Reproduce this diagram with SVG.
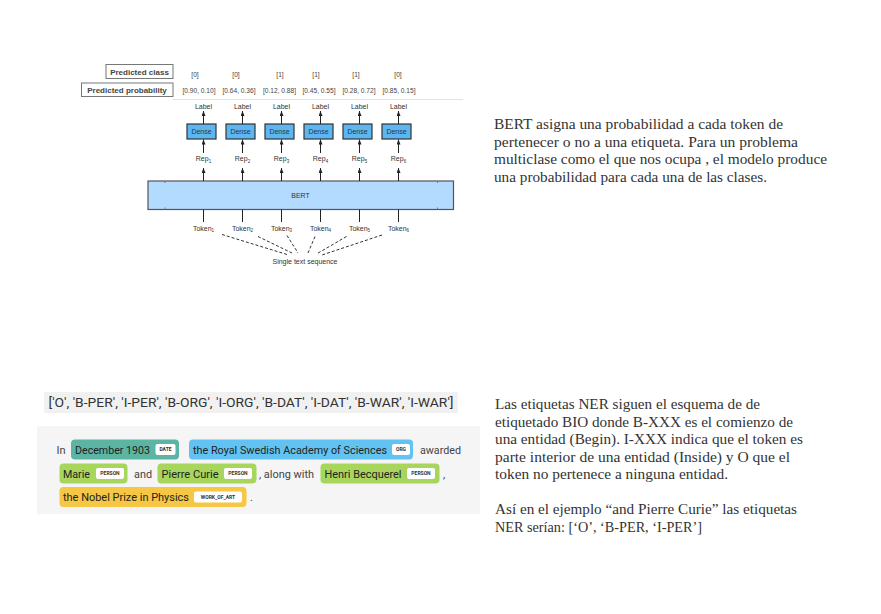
<svg xmlns="http://www.w3.org/2000/svg" width="881" height="614" viewBox="0 0 881 614">
<defs>
<style>
.sm{font-family:"Liberation Sans",Arial,sans-serif;font-size:7px;fill:#333;text-anchor:middle}
.sub{font-size:4.5px}
.hdr{font-family:"Liberation Sans",Arial,sans-serif;font-size:8px;font-weight:bold;fill:#444;text-anchor:middle}
.val{font-family:"Liberation Sans",Arial,sans-serif;font-size:6.6px;fill:#444;text-anchor:middle}
.hbox{fill:#fff;stroke:#777;stroke-width:1}
.dense{fill:#5cb6f2;stroke:#333;stroke-width:1.2}
.ln{stroke:#222;stroke-width:1;fill:none}
.dash{stroke:#333;stroke-width:1;stroke-dasharray:3,2;fill:none}
.body{font-family:"Liberation Serif","Times New Roman",serif;font-size:15px;fill:#333}
.chip{font-family:Roboto,"Liberation Sans",Arial,sans-serif;font-size:11px;fill:#222}
.plain{font-family:Roboto,"Liberation Sans",Arial,sans-serif;font-size:11px;fill:#444}
.badge{fill:#fff}
.bt{font-family:Roboto,"Liberation Sans",Arial,sans-serif;font-size:5px;font-weight:bold;fill:#333;text-anchor:middle}
</style>
<marker id="ah" viewBox="0 0 5 4" markerWidth="5" markerHeight="4" refX="5" refY="2" orient="auto" markerUnits="userSpaceOnUse">
<path d="M0,0 L5,2 L0,4 z" fill="#222"/>
</marker>
</defs>
<rect width="881" height="614" fill="#fff"/>

<g id="header">
<line x1="173" y1="99.5" x2="463" y2="99.5" stroke="#e2e2e2" stroke-width="1"/>
<rect class="hbox" x="106" y="64.5" width="67" height="14"/>
<text class="hdr" x="139.5" y="74.5">Predicted class</text>
<rect class="hbox" x="81.5" y="83" width="91.5" height="13.5"/>
<text class="hdr" x="127" y="93">Predicted probability</text>
<g class="val">
<text x="195" y="76.5">[0]</text><text x="236" y="76.5">[0]</text><text x="280" y="76.5">[1]</text><text x="316" y="76.5">[1]</text><text x="356" y="76.5">[1]</text><text x="398" y="76.5">[0]</text>
<text x="199" y="93">[0.90, 0.10]</text><text x="239" y="93">[0.64, 0.36]</text><text x="279.5" y="93">[0.12, 0.88]</text><text x="319" y="93">[0.45, 0.55]</text><text x="359" y="93">[0.28, 0.72]</text><text x="399" y="93">[0.85, 0.15]</text>
</g>
</g>

<g id="labels" class="sm">
<text x="203.5" y="108.5">Label</text><text x="242.5" y="108.5">Label</text><text x="281.5" y="108.5">Label</text><text x="320.5" y="108.5">Label</text><text x="359.5" y="108.5">Label</text><text x="398.5" y="108.5">Label</text>
</g>

<g id="dense1"><rect class="dense" x="187" y="124" width="29" height="15"/><text class="sm" x="201.5" y="134">Dense</text></g>
<g id="dense2"><rect class="dense" x="226" y="124" width="29" height="15"/><text class="sm" x="240.5" y="134">Dense</text></g>
<g id="dense3"><rect class="dense" x="265" y="124" width="29" height="15"/><text class="sm" x="279.5" y="134">Dense</text></g>
<g id="dense4"><rect class="dense" x="304" y="124" width="29" height="15"/><text class="sm" x="318.5" y="134">Dense</text></g>
<g id="dense5"><rect class="dense" x="343" y="124" width="29" height="15"/><text class="sm" x="357.5" y="134">Dense</text></g>
<g id="dense6"><rect class="dense" x="382" y="124" width="29" height="15"/><text class="sm" x="396.5" y="134">Dense</text></g>

<g id="reps" class="sm">
<text x="203.5" y="161">Rep<tspan class="sub" dy="1.5">1</tspan></text>
<text x="242.5" y="161">Rep<tspan class="sub" dy="1.5">2</tspan></text>
<text x="281.5" y="161">Rep<tspan class="sub" dy="1.5">3</tspan></text>
<text x="320.5" y="161">Rep<tspan class="sub" dy="1.5">4</tspan></text>
<text x="359.5" y="161">Rep<tspan class="sub" dy="1.5">5</tspan></text>
<text x="398.5" y="161">Rep<tspan class="sub" dy="1.5">6</tspan></text>
</g>

<g id="bert">
<rect x="148" y="181" width="305.5" height="28.5" fill="#b3daff" stroke="#555" stroke-width="1.2"/>
<text class="sm" x="300.5" y="197.5">BERT</text>
<g stroke="#777" stroke-width="1">
<line x1="165" y1="181" x2="165" y2="183"/><line x1="437.5" y1="181" x2="437.5" y2="183"/>
<line x1="165" y1="207.5" x2="165" y2="209.5"/><line x1="437.5" y1="207.5" x2="437.5" y2="209.5"/>
</g>
</g>

<g id="tokens" class="sm">
<text x="203.5" y="230.5">Token<tspan class="sub" dy="1.5">1</tspan></text>
<text x="242.5" y="230.5">Token<tspan class="sub" dy="1.5">2</tspan></text>
<text x="281.5" y="230.5">Token<tspan class="sub" dy="1.5">3</tspan></text>
<text x="320.5" y="230.5">Token<tspan class="sub" dy="1.5">4</tspan></text>
<text x="359.5" y="230.5">Token<tspan class="sub" dy="1.5">5</tspan></text>
<text x="398.5" y="230.5">Token<tspan class="sub" dy="1.5">6</tspan></text>
</g>

<g id="sequence"><text class="sm" x="305" y="263.5">Single text sequence</text></g>

<g id="connectors">
<g class="ln" marker-end="url(#ah)">
<line x1="203.5" y1="124" x2="203.5" y2="111"/><line x1="242.5" y1="124" x2="242.5" y2="111"/><line x1="281.5" y1="124" x2="281.5" y2="111"/><line x1="320.5" y1="124" x2="320.5" y2="111"/><line x1="359.5" y1="124" x2="359.5" y2="111"/><line x1="398.5" y1="124" x2="398.5" y2="111"/>
<line x1="203.5" y1="153" x2="203.5" y2="139.5"/><line x1="242.5" y1="153" x2="242.5" y2="139.5"/><line x1="281.5" y1="153" x2="281.5" y2="139.5"/><line x1="320.5" y1="153" x2="320.5" y2="139.5"/><line x1="359.5" y1="153" x2="359.5" y2="139.5"/><line x1="398.5" y1="153" x2="398.5" y2="139.5"/>
<line x1="203.5" y1="181" x2="203.5" y2="168"/><line x1="242.5" y1="181" x2="242.5" y2="168"/><line x1="281.5" y1="181" x2="281.5" y2="168"/><line x1="320.5" y1="181" x2="320.5" y2="168"/><line x1="359.5" y1="181" x2="359.5" y2="168"/><line x1="398.5" y1="181" x2="398.5" y2="168"/>
</g>
<g class="ln">
<line x1="203.5" y1="209.5" x2="203.5" y2="222"/><line x1="242.5" y1="209.5" x2="242.5" y2="222"/><line x1="281.5" y1="209.5" x2="281.5" y2="222"/><line x1="320.5" y1="209.5" x2="320.5" y2="222"/><line x1="359.5" y1="209.5" x2="359.5" y2="222"/><line x1="398.5" y1="209.5" x2="398.5" y2="222"/>
</g>
<g class="dash">
<line x1="222" y1="234.5" x2="287" y2="254.5"/>
<line x1="258" y1="236.5" x2="292" y2="253"/>
<line x1="287" y1="235.5" x2="298" y2="253"/>
<line x1="315" y1="236.5" x2="308" y2="253"/>
<line x1="346.5" y1="236.5" x2="316.5" y2="254"/>
<line x1="382" y1="235" x2="322" y2="255"/>
</g>
</g>

<g id="text1" class="body">
<text x="494" y="129" textLength="289" lengthAdjust="spacingAndGlyphs">BERT asigna una probabilidad a cada token de</text>
<text x="494" y="146.5" textLength="304" lengthAdjust="spacingAndGlyphs">pertenecer o no a una etiqueta. Para un problema</text>
<text x="494" y="164" textLength="333" lengthAdjust="spacingAndGlyphs">multiclase como el que nos ocupa , el modelo produce</text>
<text x="494" y="181.5" textLength="273" lengthAdjust="spacingAndGlyphs">una probabilidad para cada una de las clases.</text>
</g>

<g id="biolist">
<rect x="44" y="392" width="414" height="21" fill="#f1f1f1"/>
<text x="48.5" y="407" font-family="Roboto,'Liberation Sans',Arial,sans-serif" font-size="12.5" fill="#333" textLength="405" lengthAdjust="spacingAndGlyphs">['O', 'B-PER', 'I-PER', 'B-ORG', 'I-ORG', 'B-DAT', 'I-DAT', 'B-WAR', 'I-WAR']</text>
</g>

<g id="nerpanel">
<rect x="37" y="426" width="443" height="88" fill="#f5f5f5"/>
<text class="plain" x="56.5" y="453.5">In</text>
<g id="ent-date">
<rect x="71" y="439.5" width="108" height="20" rx="4" fill="#5bb5a2"/>
<text class="chip" x="75" y="453.5" textLength="75" lengthAdjust="spacingAndGlyphs">December 1903</text>
<rect class="badge" x="155.5" y="444" width="20" height="11" rx="2"/>
<text class="bt" x="165.5" y="451.3">DATE</text>
</g>
<g id="ent-org">
<rect x="189" y="439.5" width="224" height="20" rx="4" fill="#62c2f1"/>
<text class="chip" x="193" y="453.5" textLength="194" lengthAdjust="spacingAndGlyphs">the Royal Swedish Academy of Sciences</text>
<rect class="badge" x="392" y="444" width="18" height="11" rx="2"/>
<text class="bt" x="401" y="451.3">ORG</text>
</g>
<text class="plain" x="420" y="453.5" textLength="41" lengthAdjust="spacingAndGlyphs">awarded</text>
<g id="ent-marie">
<rect x="59.5" y="463.5" width="68" height="20" rx="4" fill="#a8d65c"/>
<text class="chip" x="63" y="477.5" textLength="27" lengthAdjust="spacingAndGlyphs">Marie</text>
<rect class="badge" x="96" y="468" width="28" height="11" rx="2"/>
<text class="bt" x="110" y="475.3">PERSON</text>
</g>
<text class="plain" x="134" y="477.5" textLength="18" lengthAdjust="spacingAndGlyphs">and</text>
<g id="ent-pierre">
<rect x="157.5" y="463.5" width="99" height="20" rx="4" fill="#a8d65c"/>
<text class="chip" x="161.5" y="477.5" textLength="57" lengthAdjust="spacingAndGlyphs">Pierre Curie</text>
<rect class="badge" x="224" y="468" width="28" height="11" rx="2"/>
<text class="bt" x="238" y="475.3">PERSON</text>
</g>
<text class="plain" x="259" y="477.5" textLength="55" lengthAdjust="spacingAndGlyphs">, along with</text>
<g id="ent-henri">
<rect x="320.5" y="463.5" width="119" height="20" rx="4" fill="#a8d65c"/>
<text class="chip" x="324.5" y="477.5" textLength="77" lengthAdjust="spacingAndGlyphs">Henri Becquerel</text>
<rect class="badge" x="407" y="468" width="28" height="11" rx="2"/>
<text class="bt" x="421" y="475.3">PERSON</text>
</g>
<text class="plain" x="443" y="477.5">,</text>
<g id="ent-nobel">
<rect x="59.5" y="487" width="187" height="20" rx="4" fill="#f5c744"/>
<text class="chip" x="63" y="501" textLength="126" lengthAdjust="spacingAndGlyphs">the Nobel Prize in Physics</text>
<rect class="badge" x="194" y="491.5" width="48" height="11" rx="2"/>
<text class="bt" x="218" y="498.8">WORK_OF_ART</text>
</g>
<text class="plain" x="250" y="501">.</text>
</g>

<g id="text2" class="body">
<text x="495" y="409" textLength="265" lengthAdjust="spacingAndGlyphs">Las etiquetas NER siguen el esquema de de</text>
<text x="495" y="426.5" textLength="298" lengthAdjust="spacingAndGlyphs">etiquetado BIO donde B-XXX es el comienzo de</text>
<text x="495" y="444" textLength="308" lengthAdjust="spacingAndGlyphs">una entidad (Begin). I-XXX indica que el token es</text>
<text x="495" y="461.5" textLength="295" lengthAdjust="spacingAndGlyphs">parte interior de una entidad (Inside) y O que el</text>
<text x="495" y="479" textLength="233" lengthAdjust="spacingAndGlyphs">token no pertenece a ninguna entidad.</text>
<text x="495" y="514" textLength="302" lengthAdjust="spacingAndGlyphs">Así en el ejemplo “and Pierre Curie” las etiquetas</text>
<text x="495" y="531.5" textLength="207" lengthAdjust="spacingAndGlyphs">NER serían: [‘O’, ‘B-PER, ‘I-PER’]</text>
</g>
</svg>
